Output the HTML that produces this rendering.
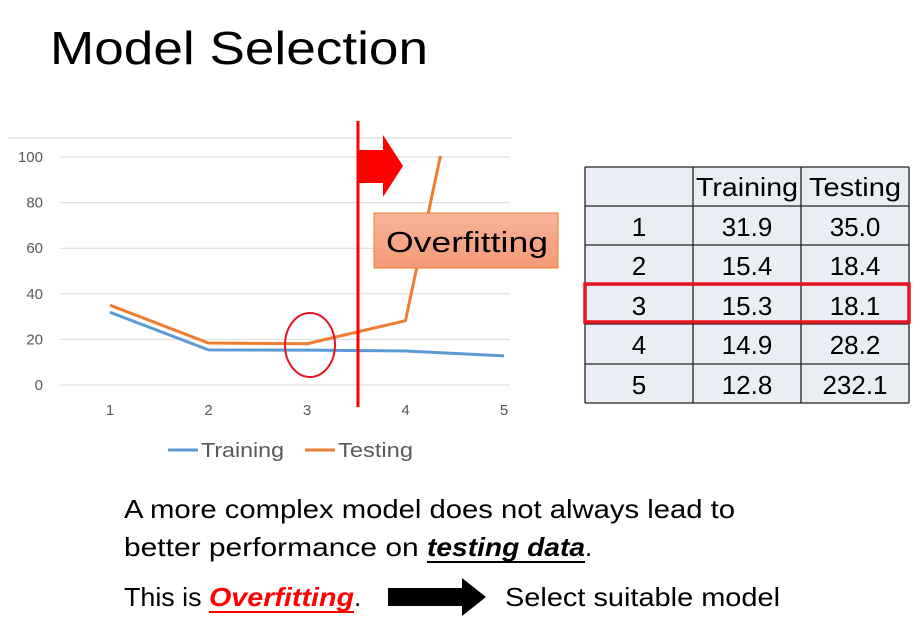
<!DOCTYPE html>
<html><head><meta charset="utf-8"><style>
html,body{margin:0;padding:0;background:#fff;}
svg{display:block;font-family:"Liberation Sans",sans-serif;}
</style></head><body>
<svg width="921" height="635" viewBox="0 0 921 635">
<text x="50" y="64" font-size="46" fill="#000" textLength="378" lengthAdjust="spacingAndGlyphs">Model Selection</text>

<g id="chart">
  <line x1="7" y1="138" x2="512" y2="138" stroke="#d9d9d9" stroke-width="1"/>
  <g id="grid"></g>
  <g id="yticks" font-size="15" fill="#595959" text-anchor="end"></g>
  <g id="xticks" font-size="15" fill="#595959" text-anchor="middle"></g>
  <defs><clipPath id="plotclip"><rect x="40" y="156" width="480" height="260"/></clipPath></defs>
  <g id="series" clip-path="url(#plotclip)"></g>
  <g>
    <line x1="168" y1="450" x2="198" y2="450" stroke="#5b9bd5" stroke-width="3"/>
    <text x="201" y="457" font-size="20" fill="#595959" textLength="83" lengthAdjust="spacingAndGlyphs">Training</text>
    <line x1="305" y1="450" x2="335" y2="450" stroke="#ed7d31" stroke-width="3"/>
    <text x="338" y="457" font-size="20" fill="#595959" textLength="75" lengthAdjust="spacingAndGlyphs">Testing</text>
  </g>
</g>

<ellipse cx="310" cy="345" rx="25" ry="32" fill="none" stroke="#e8141e" stroke-width="2"/>
<line x1="358" y1="121" x2="358" y2="407" stroke="#ff0000" stroke-width="3"/>
<polygon points="358,150 383,150 383,135 403,166 383,197 383,183 358,183" fill="#ff0000"/>
<defs><linearGradient id="og" x1="0" y1="0" x2="0" y2="1"><stop offset="0" stop-color="#f8b39a"/><stop offset="1" stop-color="#f49a77"/></linearGradient></defs>
<rect x="374" y="213" width="184" height="55" fill="url(#og)" stroke="#ed7d31" stroke-width="1"/>
<text x="386" y="252" font-size="29" fill="#000" textLength="162" lengthAdjust="spacingAndGlyphs">Overfitting</text>

<g id="table" font-size="26" fill="#000" text-anchor="middle"></g>
<rect x="585" y="284" width="324" height="38" fill="none" stroke="#e8141e" stroke-width="3.5"/>

<text x="124" y="518" font-size="26" textLength="611" lengthAdjust="spacingAndGlyphs">A more complex model does not always lead to</text>
<text x="124" y="556" font-size="26"><tspan textLength="303" lengthAdjust="spacingAndGlyphs">better performance on </tspan><tspan font-weight="bold" font-style="italic" textLength="158" lengthAdjust="spacingAndGlyphs">testing data</tspan><tspan>.</tspan></text>
<line x1="427" y1="562" x2="585" y2="562" stroke="#000" stroke-width="2"/>
<text x="124" y="606" font-size="26"><tspan textLength="85" lengthAdjust="spacingAndGlyphs">This is </tspan><tspan fill="#ff0000" font-weight="bold" font-style="italic" textLength="145" lengthAdjust="spacingAndGlyphs">Overfitting</tspan><tspan>.</tspan></text>
<line x1="209" y1="612" x2="354" y2="612" stroke="#ff0000" stroke-width="2"/>
<polygon points="388,588 462,588 462,578 486,597 462,616 462,606 388,606" fill="#000"/>
<text x="505" y="606" font-size="26" textLength="275" lengthAdjust="spacingAndGlyphs">Select suitable model</text>
</svg>
<script>
const categories = [1, 2, 3, 4, 5];
const training = [31.9, 15.4, 15.3, 14.9, 12.8];
const testing = [35.0, 18.4, 18.1, 28.2, 232.1];
const yTicks = [0, 20, 40, 60, 80, 100];
const NS = "http://www.w3.org/2000/svg";
function xs(i){ return 110 + (i-1)*98.5; }
function ys(v){ return 385 - v*2.28; }
function mk(tag, attrs, parent){ const e=document.createElementNS(NS,tag); for(const k in attrs) e.setAttribute(k,attrs[k]); parent.appendChild(e); return e; }
const grid=document.getElementById('grid'), yt=document.getElementById('yticks'), xt=document.getElementById('xticks'), ser=document.getElementById('series');
yTicks.forEach(v=>{
  const l=mk('line',{x1:60,x2:510,y1:ys(v),y2:ys(v),stroke:'#d9d9d9','stroke-width':1},grid);
  
  
  const t=mk('text',{x:43,y:ys(v)+5},yt); t.textContent=v;
  
  
});
categories.forEach(c=>{
  const t=mk('text',{x:xs(c),y:415},xt); t.textContent=c;
  
  
});
function pts(arr){ return arr.map((v,i)=>xs(categories[i])+','+ys(v)).join(' '); }
const p1=mk('polyline',{points:pts(training),fill:'none',stroke:'#5b9bd5','stroke-width':3,'stroke-linejoin':'round'},ser);


const p2=mk('polyline',{points:pts(testing),fill:'none',stroke:'#ed7d31','stroke-width':3,'stroke-linejoin':'round'},ser);



const tbl=document.getElementById('table');
const colX=[585,693,801,909], rowY=[167,206,245,285,324,364,403];
mk('rect',{x:585,y:167,width:324,height:236,fill:'#e9edf4'},tbl);
rowY.forEach(y=>mk('line',{x1:585,x2:909,y1:y,y2:y,stroke:'#222','stroke-width':1.3},tbl));
colX.forEach(x=>mk('line',{x1:x,x2:x,y1:167,y2:403,stroke:'#222','stroke-width':1.3},tbl));
const hdr=['','Training','Testing'];
hdr.forEach((h,j)=>{ if(!h) return; const t=mk('text',{x:(colX[j]+colX[j+1])/2,y:196,textLength:j==1?102:92,lengthAdjust:'spacingAndGlyphs'},tbl); t.textContent=h;
  
   });
categories.forEach((c,i)=>{
  const y=rowY[i+1]+30;
  const vals=[String(c),training[i].toFixed(1),testing[i].toFixed(1)];
  vals.forEach((v,j)=>{ const t=mk('text',{x:(colX[j]+colX[j+1])/2,y:y},tbl); t.textContent=v;
    
     });
});
</script>
</body></html>
